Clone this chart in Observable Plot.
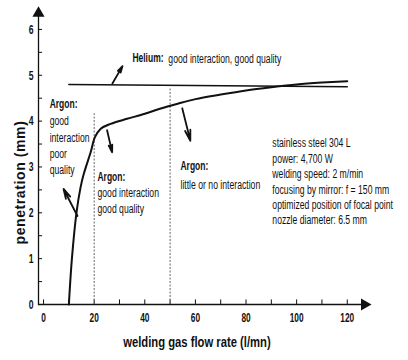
<!DOCTYPE html>
<html>
<head>
<meta charset="utf-8">
<script src="https://cdn.jsdelivr.net/npm/d3@7"></script>
<script src="https://cdn.jsdelivr.net/npm/@observablehq/plot@0.6"></script>
<style>
  html, body { margin: 0; padding: 0; background: #fff; }
  #chart { width: 408px; height: 360px; }
</style>
</head>
<body>
<div id="chart"></div>
<script>
// ---- data ----
const argonFlow = [10, 11.2, 13, 14.6, 15.9, 18.6, 20.3, 22.5, 26.5, 33, 40, 46, 53, 60, 70, 80, 90, 100, 110, 120];
const argonPen  = [0, 1, 2, 2.55, 2.85, 3.32, 3.65, 3.83, 3.94, 4.05, 4.16, 4.27, 4.38, 4.48, 4.58, 4.67, 4.74, 4.8, 4.84, 4.87];
const heliumFlow = [10, 120];
const heliumPen  = [4.8, 4.75];
const boundaryFlow = [20, 50];
const boundaryTop  = [4.16, 4.7];
const xTicks = [0, 20, 40, 60, 80, 100, 120];
const xMinorTicks = [0, 10, 20, 30, 40, 50, 60, 70, 80, 90, 100, 110, 120];
const yTicks = [0, 1, 2, 3, 4, 5, 6];
const yMinorTicks = [0, 0.5, 1, 1.5, 2, 2.5, 3, 3.5, 4, 4.5, 5, 5.5, 6];
// annotation arrows (from -> to, data units)
const arrowX1 = [27.2, 25.1, 54.8, 13.4];
const arrowY1 = [4.82, 3.8, 4.28, 1.93];
const arrowX2 = [31.2, 27.1, 58.0, 7.9];
const arrowY2 = [5.2, 3.32, 3.57, 2.52];
// annotation texts
const boldLabels = ["Helium:", "Argon:", "Argon:", "Argon:"];
const boldX = [35.1, 2.4, 21.3, 54.1];
const boldY = [5.38, 4.38, 2.79, 3.03];
const noteLabels = [
  "good interaction, good quality",
  "good\ninteraction\npoor\nquality",
  "good interaction\ngood quality",
  "little or no interaction",
  "stainless steel 304 L\npower: 4,700 W\nwelding speed: 2 m/min\nfocusing by mirror: f = 150 mm\noptimized position of focal point\nnozzle diameter: 6.5 mm"
];
const noteX = [49.3, 2.4, 21.3, 54.1, 90.4];
const noteY = [5.36, 3.99, 2.44, 2.60, 3.51];
const xLabel = "welding gas flow rate (l/mn)";
const yLabel = "penetration (mm)";
const xLabelAt = [60.6];   // centre of x title, in flow-rate units
const yLabelAt = [2.66];   // centre of y title, in penetration units

const sans = "'Liberation Sans', Arial, sans-serif";
const argon = argonFlow.map((x, i) => ({x, y: argonPen[i]}));
const helium = heliumFlow.map((x, i) => ({x, y: heliumPen[i]}));
const bounds = boundaryFlow.map((x, i) => ({x, top: boundaryTop[i]}));
const arrows = arrowX1.map((x1, i) => ({x1, y1: arrowY1[i], x2: arrowX2[i], y2: arrowY2[i]}));
const bolds = boldLabels.map((t, i) => ({t, x: boldX[i], y: boldY[i]}));
const notesBlock = noteLabels.slice(0, 4).map((t, i) => ({t, x: noteX[i], y: noteY[i]}));
const infoBlock = [{t: noteLabels[4], x: noteX[4], y: noteY[4]}];

const chart = Plot.plot({
  width: 408,
  height: 360,
  marginLeft: 38,
  marginRight: 41,
  marginTop: 6,
  marginBottom: 56,
  x: {domain: [-2, 128]},
  y: {domain: [0, 6.5]},
  style: {fontFamily: sans, color: "#111", background: "#fff"},
  marks: [
    // axis lines with arrowheads
    Plot.arrow([{x1: -2, y1: 0, x2: 128, y2: 0}], {x1: "x1", y1: "y1", x2: "x2", y2: "y2", stroke: "#111", strokeWidth: 1.3, headLength: 0, bend: 0}),
    Plot.arrow([{x1: -2, y1: 0, x2: -2, y2: 6.42}], {x1: "x1", y1: "y1", x2: "x2", y2: "y2", stroke: "#111", strokeWidth: 1.3, headLength: 0, bend: 0}),
    Plot.dot([{x: 128, y: 0}], {x: "x", y: "y", symbol: "triangle", r: 4.5, fill: "#111", rotate: 90, dx: -3}),
    Plot.dot([{x: -2, y: 6.42}], {x: "x", y: "y", symbol: "triangle", r: 4.5, fill: "#111", dy: 3}),
    // minor ticks
    Plot.ruleX(xMinorTicks, {x: d => d, y1: 0, y2: 0.1, stroke: "#111", strokeWidth: 1}),
    Plot.ruleY(yMinorTicks, {y: d => d, x1: -2, x2: -0.4, stroke: "#111", strokeWidth: 1}),
    // tick labels
    Plot.axisX({ticks: xTicks, tickFormat: d => String(d), tickSize: 0, tickPadding: 8, fontSize: 13, fontWeight: "bold", label: null, className: "tk"}),
    Plot.axisY({ticks: yTicks, tickFormat: d => String(d), tickSize: 0, tickPadding: 5, fontSize: 13.5, fontWeight: "bold", label: null, className: "tk"}),
    // boundary lines
    Plot.ruleX(bounds, {x: "x", y1: 0, y2: "top", stroke: "#666", strokeWidth: 1, strokeDasharray: "2,1.5"}),
    // curves
    Plot.line(helium, {x: "x", y: "y", stroke: "#111", strokeWidth: 1.6}),
    Plot.line(argon, {x: "x", y: "y", stroke: "#111", strokeWidth: 2, curve: "catmull-rom"}),
    // annotation arrows
    Plot.arrow(arrows, {x1: "x1", y1: "y1", x2: "x2", y2: "y2", stroke: "#111", strokeWidth: 1.8, headLength: 10, headAngle: 28, bend: 0}),
    // texts
    Plot.text(bolds, {x: "x", y: "y", text: "t", textAnchor: "start", fontSize: 12.5, fontWeight: "bold", fill: "#111", className: "bl"}),
    Plot.text(notesBlock, {x: "x", y: "y", text: "t", textAnchor: "start", lineAnchor: "top", dy: -7.5, fontSize: 12, lineHeight: 1.34, fill: "#111", className: "nt"}),
    Plot.text(infoBlock, {x: "x", y: "y", text: "t", textAnchor: "start", lineAnchor: "top", dy: -7.5, fontSize: 12, lineHeight: 1.29, fill: "#111", className: "nt"}),
    Plot.text(xLabelAt, {x: d => d, y: 0, text: () => xLabel, dy: 38, fontSize: 15, fontWeight: "bold", fill: "#111", className: "xl"}),
    Plot.text(yLabelAt, {x: -2, y: d => d, text: () => yLabel, rotate: -90, dx: -18, fontSize: 14, fontWeight: "bold", fill: "#111", className: "ylab"})
  ]
});
document.getElementById("chart").appendChild(chart);

// emulate the narrow (condensed) typeface of the original by horizontal compression
const squeeze = {tk: 0.64, bl: 0.68, nt: 0.72, xl: 0.75};
function condense(el, k) {
  const len = el.getComputedTextLength();
  if (len > 0) {
    el.setAttribute("textLength", (len * k).toFixed(2));
    el.setAttribute("lengthAdjust", "spacingAndGlyphs");
  }
}
chart.querySelectorAll("text").forEach(t => {
  if (t.closest(".ylab")) return;
  let k = 0.8;
  for (const c in squeeze) if (t.closest("." + c)) k = squeeze[c];
  const spans = t.querySelectorAll("tspan");
  if (spans.length) spans.forEach(s => condense(s, k));
  else condense(t, k);
});
chart.querySelectorAll(".ylab text").forEach(t => t.setAttribute("letter-spacing", "0.6"));
</script>
</body>
</html>
